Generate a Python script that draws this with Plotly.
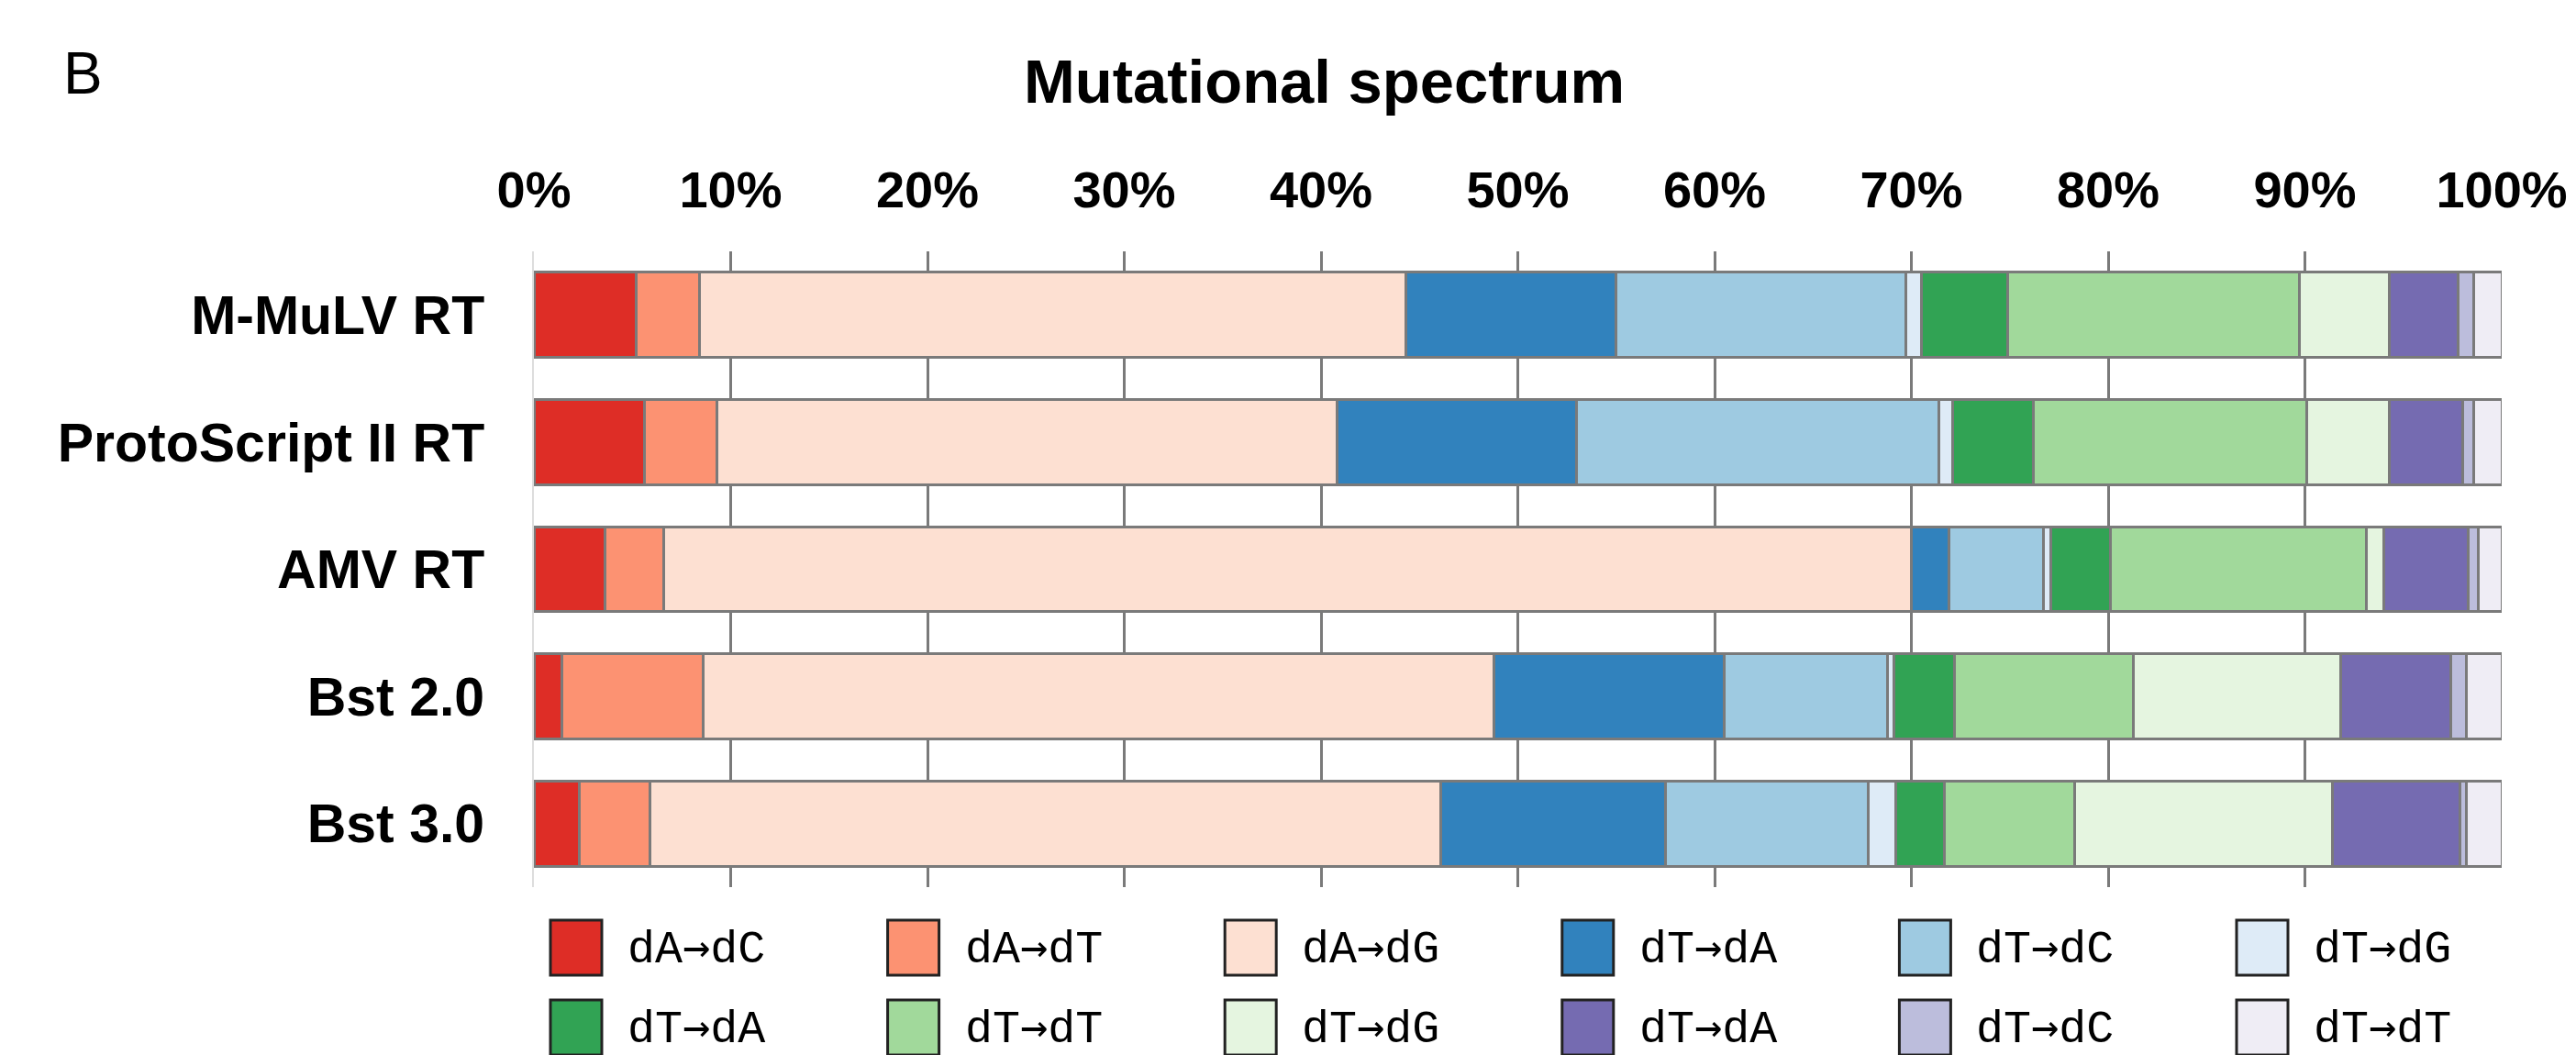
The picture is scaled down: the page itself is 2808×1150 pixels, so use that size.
import plotly.graph_objects as go

categories = ["M-MuLV RT", "ProtoScript II RT", "AMV RT", "Bst 2.0", "Bst 3.0"]

series_names = ["dA→dC", "dA→dT", "dA→dG", "dT→dA", "dT→dC", "dT→dG",
                "dT→dA", "dT→dT", "dT→dG", "dT→dA", "dT→dC", "dT→dT"]
series_colors = ["#de2d26", "#fc9272", "#fde0d2", "#3182bd", "#9ecae1", "#deebf7",
                 "#31a354", "#a1d99b", "#e5f5e0", "#756bb1", "#bcbddc", "#efedf5"]

# percentage of each mutation type, per enzyme (in series order)
mmulv       = [5.2, 3.2, 35.9, 10.7, 14.7, 0.8, 4.4, 14.8, 4.6, 3.5, 0.8, 1.4]
protoscript = [5.6, 3.7, 31.5, 12.2, 18.4, 0.7, 4.1, 13.9, 4.2, 3.7, 0.6, 1.4]
amv         = [3.6, 3.0, 63.4, 1.9, 4.8, 0.4, 3.0, 13.0, 0.9, 4.3, 0.5, 1.2]
bst2        = [1.4, 7.2, 40.2, 11.7, 8.3, 0.3, 3.1, 9.1, 10.5, 5.6, 0.8, 1.8]
bst3        = [2.3, 3.6, 40.2, 11.4, 10.3, 1.4, 2.5, 6.6, 13.1, 6.5, 0.3, 1.8]

rows = [mmulv, protoscript, amv, bst2, bst3]
tick_vals = [0, 10, 20, 30, 40, 50, 60, 70, 80, 90, 100]
tick_text = [f"{v}%" for v in tick_vals]

W, H = 2808, 1150
L, R, T, B = 582, 81, 274, 183
PW, PH = W - L - R, H - T - B

fig = go.Figure()
for i, (name, color) in enumerate(zip(series_names, series_colors)):
    fig.add_trace(go.Bar(
        y=categories, x=[r[i] for r in rows], name=name, orientation="h",
        marker=dict(color=color, line=dict(color="#7a7a7a", width=3)),
        width=0.67, showlegend=False,
    ))

fig.update_layout(
    barmode="stack",
    width=W, height=H,
    showlegend=False,
    margin=dict(l=L, r=R, t=T, b=B, pad=0, autoexpand=False),
    plot_bgcolor="white", paper_bgcolor="white",
    xaxis=dict(side="top", range=[0, 100], tickvals=tick_vals, ticktext=tick_text,
               showgrid=True, gridcolor="#7a7a7a", gridwidth=3, zeroline=False,
               showline=False, ticks="", ticklabelstandoff=36, automargin=False,
               tickfont=dict(family="Liberation Sans", size=56, color="black", weight="bold")),
    yaxis=dict(autorange="reversed", showgrid=False, zeroline=False,
               showline=True, linecolor="#dddddd", linewidth=2, ticks="",
               ticklabelstandoff=40, automargin=False,
               tickfont=dict(family="Liberation Sans", size=59, color="black", weight="bold")),
)

def px2paper(px, py):
    return (px - L) / PW, (H - B - py) / PH

annotations = []
# Panel letter
x, y = px2paper(90, 80)
annotations.append(dict(x=x, y=y, xref="paper", yref="paper", text="B", showarrow=False,
                        xanchor="center", yanchor="middle",
                        font=dict(family="Liberation Sans", size=64, color="black")))
# Title
x, y = px2paper(1443, 88)
annotations.append(dict(x=x, y=y, xref="paper", yref="paper", text="Mutational spectrum",
                        showarrow=False, xanchor="center", yanchor="middle",
                        font=dict(family="Liberation Sans", size=67, color="black", weight="bold")))

# Manual legend (2 rows x 6 columns)
shapes = []
col0, colstep = 600, 367.6
row_centers = [1033, 1120]
sw_w, sw_h = 56, 60
arrow = "<span style='font-family:DejaVu Sans Mono'>→</span>"
for i, (name, color) in enumerate(zip(series_names, series_colors)):
    r, c = divmod(i, 6)
    x0 = col0 + c * colstep
    cy = row_centers[r]
    px0, py0 = px2paper(x0, cy - sw_h / 2)
    px1, py1 = px2paper(x0 + sw_w, cy + sw_h / 2)
    shapes.append(dict(type="rect", xref="paper", yref="paper", x0=px0, x1=px1, y0=py1, y1=py0,
                       fillcolor=color, line=dict(color="#222222", width=3)))
    tx, ty = px2paper(x0 + sw_w + 26, cy)
    label = name.replace("→", arrow)
    annotations.append(dict(x=tx, y=ty, xref="paper", yref="paper", text=label, showarrow=False,
                            xanchor="left", yanchor="middle",
                            font=dict(family="Liberation Mono", size=50, color="black")))

fig.update_layout(annotations=annotations, shapes=shapes)
fig.write_html("out.html", config={"displayModeBar": False},
               post_script="document.body.style.margin='0';document.body.style.overflow='hidden';")
